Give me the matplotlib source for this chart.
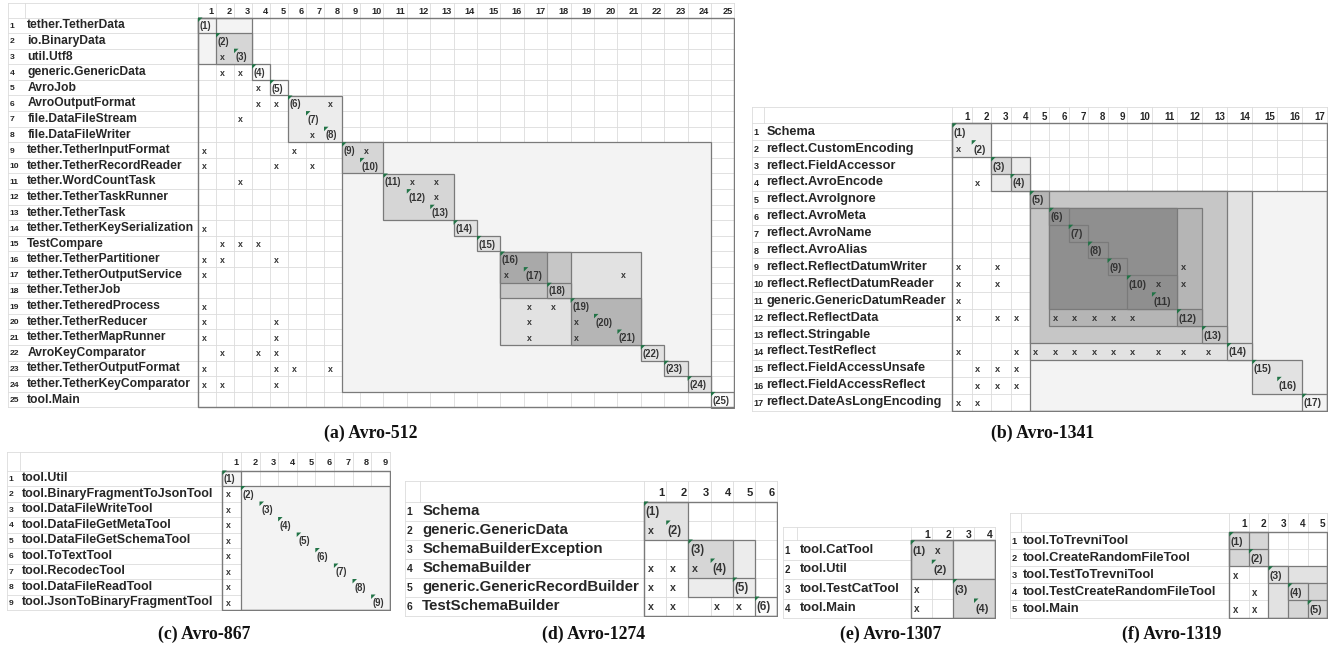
import matplotlib
matplotlib.use("Agg")
import matplotlib.pyplot as plt
from matplotlib.patches import Rectangle, Polygon

W, H = 1331, 658
DPI = 100

# ---------------- data ----------------
A_LABELS = ["tether.TetherData", "io.BinaryData", "util.Utf8", "generic.GenericData",
            "AvroJob", "AvroOutputFormat", "file.DataFileStream", "file.DataFileWriter",
            "tether.TetherInputFormat", "tether.TetherRecordReader", "tether.WordCountTask",
            "tether.TetherTaskRunner", "tether.TetherTask", "tether.TetherKeySerialization",
            "TestCompare", "tether.TetherPartitioner", "tether.TetherOutputService",
            "tether.TetherJob", "tether.TetheredProcess", "tether.TetherReducer",
            "tether.TetherMapRunner", "AvroKeyComparator", "tether.TetherOutputFormat",
            "tether.TetherKeyComparator", "tool.Main"]
A_MARKS = [(3, 2), (4, 2), (4, 3), (5, 4), (6, 4), (6, 5), (6, 8), (7, 3), (8, 7),
           (9, 1), (9, 6), (9, 10), (10, 1), (10, 5), (10, 7), (11, 3), (11, 12), (11, 13),
           (12, 13), (14, 1), (15, 2), (15, 3), (15, 4), (16, 1), (16, 2), (16, 5),
           (17, 1), (17, 16), (17, 21), (19, 1), (19, 17), (19, 18), (20, 1), (20, 5),
           (20, 17), (20, 19), (21, 1), (21, 5), (21, 17), (21, 19), (22, 2), (22, 4),
           (22, 5), (23, 1), (23, 5), (23, 6), (23, 8), (24, 1), (24, 2), (24, 5)]
# (first row, last row, first col, last col, shade)
A_BLOCKS = [(1, 3, 1, 3, "l0"), (1, 1, 1, 1, "l0"), (2, 3, 2, 3, "m1"), (4, 4, 4, 4, "w"),
            (5, 5, 5, 5, "w"), (6, 8, 6, 8, "l1"), (9, 24, 9, 24, "l0"), (9, 10, 9, 10, "m1"),
            (11, 13, 11, 13, "m1"), (14, 14, 14, 14, "l2"), (15, 15, 15, 15, "l2"),
            (16, 21, 16, 21, "l2"), (16, 18, 16, 18, "m2"), (16, 17, 16, 17, "d1"),
            (18, 18, 18, 18, "m2"), (19, 21, 19, 21, "m3"), (22, 22, 22, 22, "l2"),
            (23, 23, 23, 23, "l2"), (24, 24, 24, 24, "l2"), (25, 25, 25, 25, "w")]

B_LABELS = ["Schema", "reflect.CustomEncoding", "reflect.FieldAccessor", "reflect.AvroEncode",
            "reflect.AvroIgnore", "reflect.AvroMeta", "reflect.AvroName", "reflect.AvroAlias",
            "reflect.ReflectDatumWriter", "reflect.ReflectDatumReader",
            "generic.GenericDatumReader", "reflect.ReflectData", "reflect.Stringable",
            "reflect.TestReflect", "reflect.FieldAccessUnsafe", "reflect.FieldAccessReflect",
            "reflect.DateAsLongEncoding"]
B_MARKS = [(2, 1), (4, 2), (9, 1), (9, 3), (9, 12), (10, 1), (10, 3), (10, 11), (10, 12),
           (11, 1), (12, 1), (12, 3), (12, 4), (12, 6), (12, 7), (12, 8), (12, 9), (12, 10),
           (14, 1), (14, 4), (14, 5), (14, 6), (14, 7), (14, 8), (14, 9), (14, 10), (14, 11),
           (14, 12), (14, 13), (15, 2), (15, 3), (15, 4), (16, 2), (16, 3), (16, 4),
           (17, 1), (17, 2)]
B_BLOCKS = [(1, 2, 1, 2, "l1"), (3, 4, 3, 4, "l1"), (3, 3, 3, 3, "m1"), (4, 4, 4, 4, "m1"),
            (5, 17, 5, 17, "l0"), (5, 14, 5, 14, "l2"), (5, 13, 5, 13, "m2"),
            (5, 5, 5, 5, "m3"), (6, 12, 6, 12, "m3"), (6, 11, 6, 11, "d2"),
            (6, 6, 6, 6, "d2"), (7, 7, 7, 7, "d2"), (8, 8, 8, 8, "d2"), (9, 9, 9, 9, "d2"),
            (10, 11, 10, 11, "d2"), (12, 12, 12, 12, "d1"), (13, 13, 13, 13, "m2"),
            (14, 14, 14, 14, "l2"), (15, 16, 15, 16, "l2"), (17, 17, 17, 17, "l0")]

C_LABELS = ["tool.Util", "tool.BinaryFragmentToJsonTool", "tool.DataFileWriteTool",
            "tool.DataFileGetMetaTool", "tool.DataFileGetSchemaTool", "tool.ToTextTool",
            "tool.RecodecTool", "tool.DataFileReadTool", "tool.JsonToBinaryFragmentTool"]
C_MARKS = [(2, 1), (3, 1), (4, 1), (5, 1), (6, 1), (7, 1), (8, 1), (9, 1)]
C_BLOCKS = [(1, 1, 1, 1, "l0"), (2, 9, 2, 9, "l0")]

D_LABELS = ["Schema", "generic.GenericData", "SchemaBuilderException", "SchemaBuilder",
            "generic.GenericRecordBuilder", "TestSchemaBuilder"]
D_MARKS = [(2, 1), (4, 1), (4, 2), (4, 3), (5, 1), (5, 2), (6, 1), (6, 2), (6, 4), (6, 5)]
D_BLOCKS = [(1, 2, 1, 2, "l2"), (3, 5, 3, 5, "l1"), (3, 4, 3, 4, "m1"), (5, 5, 5, 5, "l1"),
            (6, 6, 6, 6, "w")]

E_LABELS = ["tool.CatTool", "tool.Util", "tool.TestCatTool", "tool.Main"]
E_MARKS = [(1, 2), (3, 1), (4, 1)]
E_BLOCKS = [(1, 2, 1, 2, "m1"), (1, 2, 3, 4, "l1"), (3, 4, 3, 4, "m1")]

F_LABELS = ["tool.ToTrevniTool", "tool.CreateRandomFileTool", "tool.TestToTrevniTool",
            "tool.TestCreateRandomFileTool", "tool.Main"]
F_MARKS = [(3, 1), (4, 2), (5, 1), (5, 2)]
F_BLOCKS = [(1, 2, 1, 2, "m1"), (1, 1, 1, 1, "m1"), (2, 2, 2, 2, "m1"), (3, 5, 3, 5, "l2"),
            (3, 3, 3, 3, "l2"), (4, 5, 4, 5, "m1"), (4, 4, 4, 4, "m1"), (5, 5, 5, 5, "m1")]

CAPTIONS = ["(a) Avro-512", "(b) Avro-1341", "(c) Avro-867", "(d) Avro-1274",
            "(e) Avro-1307", "(f) Avro-1319"]

# ---------------- style / layout ----------------
SHADES = {"w": "#fbfbfb", "l0": "#f3f3f3", "l1": "#ececec", "l2": "#e2e2e2",
          "m1": "#d6d6d6", "m2": "#c6c6c6", "m3": "#b5b5b5", "d1": "#a9a9a9", "d2": "#8f8f8f"}
GRID = "#dcdcdc"
EDGE = "#7a7a7a"
TRI = "#217346"
TXT = "#262626"
SANS = ["Liberation Sans", "DejaVu Sans"]

LAYOUTS = [
    dict(left=8, num_w=17, mat_left=198, top=3, head_h=14.5, row_h=15.6, narrow=18.0, wide=23.4,
         label_fs=8.7, small_fs=6.9, cap=(371, 433)),
    dict(left=752, num_w=12, mat_left=952.3, top=106.7, head_h=16.6, row_h=16.9, narrow=19.4,
         wide=25.05, label_fs=9.2, small_fs=7.3, cap=(1043, 433)),
    dict(left=7, num_w=13, mat_left=222.3, top=452.3, head_h=18.2, row_h=15.5, narrow=18.6,
         wide=18.6, label_fs=9.0, small_fs=6.9, cap=(204, 634)),
    dict(left=405, num_w=15, mat_left=644, top=481, head_h=20.5, row_h=19.0, narrow=22.2,
         wide=22.2, label_fs=10.8, small_fs=8.3, cap=(594, 634)),
    dict(left=783.3, num_w=14, mat_left=910.7, top=526.7, head_h=13.6, row_h=19.4, narrow=21.1,
         wide=21.1, label_fs=9.4, small_fs=7.8, cap=(891, 634)),
    dict(left=1010, num_w=11, mat_left=1229.3, top=513.3, head_h=18.7, row_h=17.1, narrow=19.6,
         wide=19.6, label_fs=9.4, small_fs=7.5, cap=(1172, 634)),
]


def draw_panel(fig, labels, marks, blocks, lay):
    n = len(labels)
    widths = [lay["narrow"] if j < 10 else lay["wide"] for j in range(1, n + 1)]
    edges = [lay["mat_left"]]
    for w in widths:
        edges.append(edges[-1] + w)
    x0 = lay["left"]
    xl = x0 + lay["num_w"]
    right = edges[-1]
    rh = lay["row_h"]
    hh = lay["head_h"] / rh
    py = 1.0 / rh
    bottom = lay["top"] + lay["head_h"] + n * rh

    ax = fig.add_axes([(x0 - 1) / W, 1 - (bottom + 1) / H,
                       (right - x0 + 2) / W, (bottom - lay["top"] + 2) / H])
    ax.set_xlim(x0 - 1, right + 1)
    ax.set_ylim(n + py, -hh - py)
    ax.axis("off")

    # excel-like grid
    for r in range(n + 1):
        ax.plot([x0, right], [r, r], color=GRID, lw=0.6, zorder=0)
    ax.plot([x0, right], [-hh, -hh], color=GRID, lw=0.6, zorder=0)
    for x in edges:
        ax.plot([x, x], [-hh, n], color=GRID, lw=0.6, zorder=0)
    ax.plot([x0, x0], [-hh, n], color=GRID, lw=0.6, zorder=0)
    ax.plot([xl, xl], [-hh, 0], color=GRID, lw=0.6, zorder=0)

    # clustered blocks
    for r0, r1, c0, c1, shade in blocks:
        ax.add_patch(Rectangle((edges[c0 - 1], r0 - 1), edges[c1] - edges[c0 - 1], r1 - r0 + 1,
                               facecolor=SHADES[shade], edgecolor=EDGE, lw=0.9, zorder=1))
    ax.add_patch(Rectangle((edges[0], 0), right - edges[0], n, facecolor="none",
                           edgecolor=EDGE, lw=1.0, zorder=2))

    fs = lay["small_fs"]
    for j in range(1, n + 1):
        ax.text(edges[j] - 2, -hh / 2 + 1.5 * py, str(j), ha="right", va="center",
                fontsize=fs - 0.3, weight="bold", color=TXT, family=SANS, zorder=3)
    for i, lab in enumerate(labels, start=1):
        ax.text(x0 + 1.5, i - 0.5 + py, str(i), ha="left", va="center", fontsize=fs - 0.8,
                weight="bold", color=TXT, family=SANS, zorder=3)
        ax.text(xl + 2.3, i - 0.5, lab, ha="left", va="center", fontsize=lay["label_fs"],
                weight="bold", color=TXT, family=SANS, zorder=3)
        cl = edges[i - 1]
        ax.add_patch(Polygon([(cl, i - 1), (cl + 4.5, i - 1), (cl, i - 1 + 4.5 * py)],
                             closed=True, facecolor=TRI, edgecolor="none", zorder=3))
        ax.text(cl + 1.5, i - 0.5 + py, f"({i})", ha="left", va="center", fontsize=fs,
                weight="bold", color="#333333", family=SANS, zorder=3)
    for r, c in marks:
        ax.text(edges[c - 1] + 3.5, r - 0.5 + py, "x", ha="left", va="center",
                fontsize=fs - 0.6, weight="bold", color="#333333", family=SANS, zorder=3)


fig = plt.figure(figsize=(W / DPI, H / DPI), dpi=DPI)
fig.patch.set_facecolor("white")

panels = [(A_LABELS, A_MARKS, A_BLOCKS), (B_LABELS, B_MARKS, B_BLOCKS),
          (C_LABELS, C_MARKS, C_BLOCKS), (D_LABELS, D_MARKS, D_BLOCKS),
          (E_LABELS, E_MARKS, E_BLOCKS), (F_LABELS, F_MARKS, F_BLOCKS)]
for (labels, marks, blocks), lay, cap in zip(panels, LAYOUTS, CAPTIONS):
    draw_panel(fig, labels, marks, blocks, lay)
    cx, cy = lay["cap"]
    fig.text(cx / W, 1 - cy / H, cap, ha="center", va="center", fontsize=12.8,
             weight="bold", family=["Liberation Serif", "DejaVu Serif"], color="#111111")

fig.savefig("out.png", dpi=DPI)
